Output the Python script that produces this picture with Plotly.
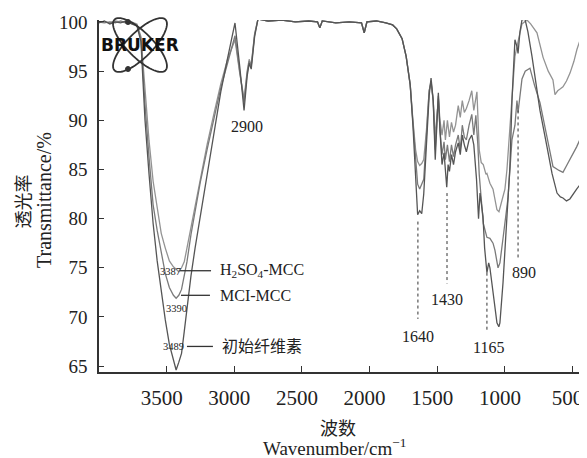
import math
import plotly.graph_objects as go

# ---------------- data ----------------
wn_oh = [4000, 3960, 3920, 3880, 3840, 3800, 3760, 3720, 3690, 3660, 3630, 3600, 3570,
         3540, 3510, 3480, 3450, 3430, 3410, 3390, 3370, 3350, 3320, 3290, 3250, 3200,
         3150, 3100, 3050, 2995, 2960, 2928, 2905, 2890, 2875, 2850, 2825]
t_oh_init = [99.9, 100.1, 99.8, 100.0, 99.9, 100.1, 99.8, 99.6, 98.0, 90.0, 84.5, 79.5, 75.7,
             72.5, 69.7, 67.2, 65.5, 64.6, 65.4, 66.3, 68.5, 71.0, 74.2, 77.0, 80.4, 84.7,
             89.0, 92.9, 96.3, 99.9, 95.5, 91.0, 94.5, 95.8, 95.2, 98.5, 100.3]
t_oh_mcl = [100.0, 99.9, 100.0, 99.9, 100.1, 99.9, 99.9, 99.7, 98.3, 91.6, 86.2, 81.4, 78.8,
            76.4, 74.4, 73.0, 72.2, 71.9, 72.2, 72.8, 74.1, 75.6, 78.4, 80.9, 83.8, 87.1,
            90.3, 93.3, 95.8, 98.6, 95.0, 91.8, 94.8, 96.0, 95.5, 98.7, 100.3]
t_oh_h2so4 = [100.0, 100.0, 99.9, 100.1, 100.0, 99.9, 100.0, 99.8, 98.5, 92.8, 87.9, 83.8, 81.0,
              78.5, 77.0, 75.7, 75.1, 74.8, 74.6, 75.0, 75.6, 77.0, 79.1, 81.3, 84.3, 87.6,
              90.7, 93.7, 96.2, 98.2, 94.8, 92.2, 95.0, 96.2, 95.6, 98.8, 100.3]

wn_flat = [2750, 2650, 2550, 2450, 2385, 2368, 2350, 2250, 2150, 2060, 2040, 2020,
           1950, 1880, 1830, 1800, 1760, 1730, 1700]
t_flat = [100.1, 100.2, 100.0, 100.1, 100.0, 99.4, 100.1, 99.9, 100.0, 99.9, 98.9, 100.0,
          100.1, 99.9, 99.7, 99.3, 98.3, 96.5, 93.6]

wn_fp_init = [1680, 1660, 1645, 1630, 1615, 1600, 1580, 1560, 1546, 1530, 1515, 1500, 1492,
              1480, 1465, 1450, 1440, 1430, 1420, 1410, 1395, 1380, 1365, 1345, 1330, 1315,
              1300, 1285, 1265, 1245, 1230, 1210, 1195, 1184, 1162, 1150, 1133, 1120, 1111,
              1088, 1070, 1059, 1045, 1037, 1014, 1000, 985, 963, 948, 926, 911, 903, 889,
              874, 852, 830, 800, 770, 741, 689, 652, 615, 590, 571, 545, 520, 497, 470,
              431, 423]
t_fp_init = [89.5, 84.0, 80.4, 80.8, 80.5, 82.5, 88.0, 92.5, 94.3, 92.0, 86.0, 90.0, 92.8,
             89.0, 85.5, 86.7, 84.5, 83.2, 85.5, 84.8, 86.5, 85.5, 86.8, 87.7, 86.5, 88.5,
             87.5, 86.8, 88.0, 88.5, 87.5, 84.0, 80.0, 82.6, 80.2, 77.0, 74.5, 75.5, 75.0,
             72.7, 70.5, 69.4, 69.0, 69.4, 73.5, 77.0, 80.2, 85.3, 92.0, 98.2, 97.5, 96.8, 99.0,
             100.2, 100.3, 99.0, 96.5, 93.5, 91.0, 87.3, 84.6, 82.6, 82.2, 82.1, 81.8, 82.0, 82.5, 83.0,
             83.7, 83.9]

wn_fp_mcl = [1680, 1660, 1645, 1630, 1615, 1600, 1580, 1560, 1546, 1530, 1515, 1500, 1492,
             1480, 1465, 1450, 1440, 1425, 1410, 1395, 1380, 1365, 1345, 1330, 1315, 1300,
             1285, 1265, 1245, 1230, 1215, 1200, 1190, 1175, 1160, 1133, 1111, 1088, 1074,
             1051, 1037, 1014, 995, 978, 963, 948, 926, 911, 903, 874, 850, 815, 780, 741,
             689, 645, 600, 571, 540, 519, 497, 470, 431, 423]
t_fp_mcl = [89.8, 86.5, 83.5, 83.0, 83.5, 84.0, 88.5, 93.0, 94.0, 92.0, 87.0, 91.0, 92.5,
            89.0, 86.5, 87.8, 86.0, 87.5, 85.8, 87.5, 86.3, 87.5, 88.5, 87.0, 89.5, 88.3,
            88.0, 89.5, 90.6, 88.5, 90.5, 87.5, 84.5, 82.0, 79.5, 78.1, 78.0, 77.5, 76.8,
            75.0, 75.5, 78.0, 80.0, 82.0, 85.0, 88.0, 89.5, 92.0, 90.8, 94.2, 95.0, 95.3, 93.5, 91.8,
            88.3, 85.3, 84.9, 84.7, 85.5, 86.0, 86.6, 87.3, 88.5, 88.8]

wn_fp_h2so4 = [1680, 1660, 1645, 1630, 1615, 1600, 1580, 1560, 1546, 1530, 1515, 1500, 1492,
               1480, 1465, 1450, 1440, 1425, 1410, 1395, 1380, 1365, 1345, 1330, 1315, 1300,
               1285, 1265, 1245, 1230, 1207, 1190, 1175, 1160, 1140, 1133, 1111, 1088, 1074,
               1059, 1044, 1030, 1014, 1000, 985, 970, 948, 926, 903, 874, 837, 810, 763, 718,
               680, 645, 630, 610, 590, 571, 545, 519, 490, 468, 431, 423]
t_fp_h2so4 = [90.0, 87.0, 85.8, 85.4, 85.6, 86.0, 89.0, 93.0, 93.8, 92.0, 88.3, 91.5, 92.2,
              90.0, 88.5, 90.0, 88.0, 90.0, 88.3, 89.8, 88.8, 89.5, 91.5, 90.3, 92.0, 90.8,
              91.2, 92.0, 93.0, 91.0, 92.9, 87.0, 85.7, 85.5, 84.5, 84.6, 83.6, 83.0, 82.0,
              80.9, 80.7, 81.5, 82.4, 83.0, 85.0, 88.0, 92.5, 96.5, 98.0, 99.8, 100.2, 99.8, 98.9, 96.4,
              95.0, 94.1, 92.6, 93.0, 93.2, 93.4, 94.0, 94.8, 96.0, 97.2, 98.7, 99.0]

series_names = ["初始纤维素", "MCI-MCC", "H<sub>2</sub>SO<sub>4</sub>-MCC"]

# band annotations: label, wavenumber of line, line top, line bottom, label x, label y
band_labels = ["2900", "1640", "1430", "1165", "890"]
band_line_wn = [None, 1643, 1428, 1133, 903]
band_line_top = [None, 79.7, 82.6, 74.5, 91.0]
band_line_bot = [None, 69.8, 73.4, 68.7, 76.0]
band_text_wn = [2906, 1643, 1428, 1118, 859]
band_text_t = [89.4, 68.0, 71.8, 66.9, 74.5]

peak_labels = ["3387", "3390", "3489"]
peak_text_wn = [3475, 3424, 3453]
peak_text_t = [74.6, 70.9, 67.0]

# ---------------- figure ----------------
SERIF = "Liberation Serif, Times New Roman, Noto Sans CJK SC, serif"
INK = "#222222"

wn_init = wn_oh + wn_flat + wn_fp_init
t_init = t_oh_init + t_flat + t_fp_init
wn_mcl = wn_oh + wn_flat + wn_fp_mcl
t_mcl = t_oh_mcl + t_flat + t_fp_mcl
wn_h = wn_oh + wn_flat + wn_fp_h2so4
t_h = t_oh_h2so4 + t_flat + t_fp_h2so4

fig = go.Figure()
for x, y, c, n in [(wn_h, t_h, "#939393", series_names[2]),
                   (wn_mcl, t_mcl, "#7a7a7a", series_names[1]),
                   (wn_init, t_init, "#555555", series_names[0])]:
    fig.add_trace(go.Scatter(x=x, y=y, mode="lines", name=n,
                             line=dict(color=c, width=1.3), showlegend=False))

ann = []
shapes = []
for lab, lw, lt, lb, tx, ty in zip(band_labels, band_line_wn, band_line_top,
                                   band_line_bot, band_text_wn, band_text_t):
    if lw is not None:
        shapes.append(dict(type="line", xref="x", yref="y", x0=lw, x1=lw, y0=lt, y1=lb,
                           line=dict(color="#333", width=1, dash="dot")))
    ann.append(dict(x=tx, y=ty, xref="x", yref="y", text=lab, showarrow=False,
                    xanchor="center", yanchor="middle",
                    font=dict(family=SERIF, size=16, color=INK)))

for lab, tx, ty in zip(peak_labels, peak_text_wn, peak_text_t):
    ann.append(dict(x=tx, y=ty, xref="x", yref="y", text=lab, showarrow=False,
                    xanchor="center", yanchor="middle",
                    font=dict(family=SERIF, size=10.5, color=INK)))

# series labels with leader lines
leader = [(3401, 3172, 74.7, 3121, series_names[2]),
          (3394, 3180, 72.2, 3121, series_names[1]),
          (3350, 3158, 67.0, 3108, series_names[0])]
for x0, x1, yy, tx, name in leader:
    shapes.append(dict(type="line", xref="x", yref="y", x0=x0, x1=x1, y0=yy, y1=yy,
                       line=dict(color="#333", width=1.3)))
    ann.append(dict(x=tx, y=yy, xref="x", yref="y", text=name, showarrow=False,
                    xanchor="left", yanchor="middle",
                    font=dict(family=SERIF, size=16, color=INK)))

# axis titles
ann += [
    dict(x=(21.5 - 99) / 484, y=0.483, xref="paper", yref="paper", text="透光率", textangle=-90,
         showarrow=False, xanchor="center", yanchor="middle", borderpad=0,
         font=dict(family="Noto Sans CJK SC", size=18, color=INK)),
    dict(x=-0.1136, y=0.4886, xref="paper", yref="paper", text="Transmittance/%",
         textangle=-90, showarrow=False, xanchor="center", yanchor="middle",
         font=dict(family=SERIF, size=20, color=INK)),
    dict(x=0.4938, y=-0.156, xref="paper", yref="paper", text="波数",
         showarrow=False, xanchor="center", yanchor="middle",
         font=dict(family="Noto Sans CJK SC", size=18, color=INK)),
    dict(x=0.4876, y=-0.212, xref="paper", yref="paper", text="Wavenumber/cm<sup>−1</sup>",
         showarrow=False, xanchor="center", yanchor="middle",
         font=dict(family=SERIF, size=19, color=INK)),
]

# The page body adds an 8 px offset; plot area placed at page pixels (99..583, 20..372)
OFF = 8
L, T, W, H = 99, 20, 484, 352
FW, FH = 587 - OFF, 458 - OFF


def px2paper(px, py):
    return (px - L) / W, (T + H - py) / H


def ellipse_path(cx, cy, a, b, ang):
    pts = []
    for k in range(73):
        th = 2 * math.pi * k / 72
        ex, ey = a * math.cos(th), b * math.sin(th)
        px = cx + ex * math.cos(ang) - ey * math.sin(ang)
        py = cy + ex * math.sin(ang) + ey * math.cos(ang)
        pts.append(px2paper(px, py))
    return "M " + " L ".join(f"{u:.5f},{v:.5f}" for u, v in pts) + " Z"


# BRUKER logo (decoration)
for ang in (math.pi / 4, -math.pi / 4):
    shapes.append(dict(type="path", xref="paper", yref="paper",
                       path=ellipse_path(140, 45, 36, 12.6, ang),
                       line=dict(color="#333", width=1.8)))
for dx, dy in [(128, 22), (128, 69)]:
    u0, v0 = px2paper(dx - 2.5, dy + 2.5)
    u1, v1 = px2paper(dx + 2.5, dy - 2.5)
    shapes.append(dict(type="circle", xref="paper", yref="paper", x0=u0, y0=v0, x1=u1, y1=v1,
                       fillcolor="#333", line=dict(color="#333", width=1)))
bx, by = px2paper(140, 45)
ann.append(dict(x=bx, y=by, xref="paper", yref="paper", text="<b>BRUKER</b>", showarrow=False,
                xanchor="center", yanchor="middle",
                font=dict(family="DejaVu Sans", size=17, color="#111")))

fig.update_layout(
    width=FW, height=FH,
    margin=dict(l=L - OFF, r=FW - (L - OFF) - W, t=T - OFF, b=FH - (T - OFF) - H,
                autoexpand=False),
    paper_bgcolor="white", plot_bgcolor="white",
    annotations=ann, shapes=shapes,
    xaxis=dict(range=[4000, 423], tickvals=[3500, 3000, 2500, 2000, 1500, 1000, 500],
               ticks="inside", ticklen=6, tickwidth=1.3, tickcolor="#333", automargin=False,
               showline=True, linecolor="#333", linewidth=1.5, showgrid=False, zeroline=False,
               tickfont=dict(family=SERIF, size=21, color=INK), ticklabelstandoff=6,
               ticklabelshift=5, ticklabeloverflow="allow"),
    yaxis=dict(range=[64.4, 100.2], tickvals=[65, 70, 75, 80, 85, 90, 95, 100],
               ticks="inside", ticklen=5, tickwidth=1.3, tickcolor="#333", automargin=False,
               showline=True, linecolor="#333", linewidth=1.5, showgrid=False, zeroline=False,
               tickfont=dict(family=SERIF, size=19, color=INK), ticklabelstandoff=6,
               ticklabeloverflow="allow"),
)

fig.write_html("out.html")
